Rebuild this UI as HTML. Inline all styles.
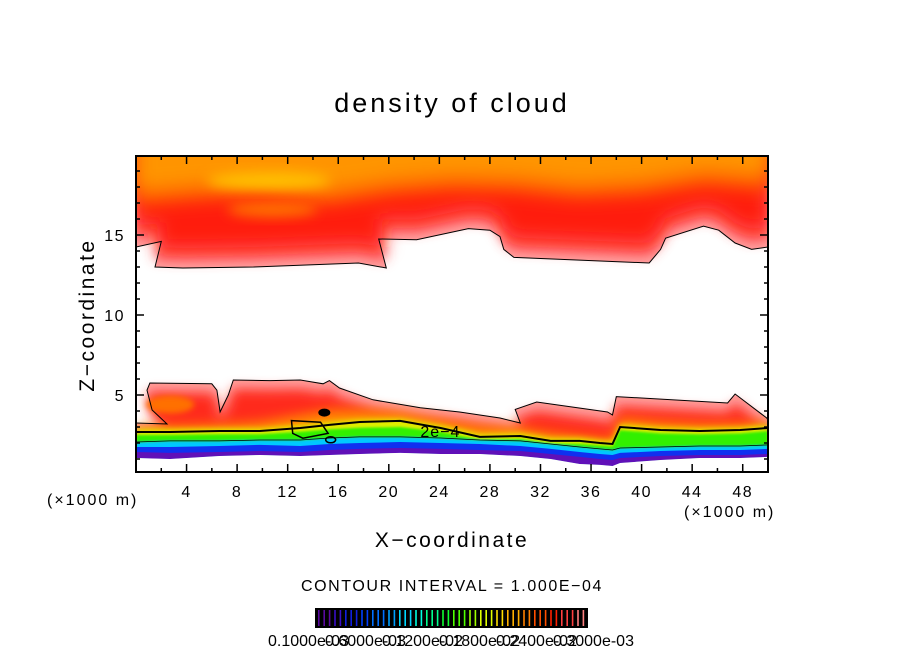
<!DOCTYPE html>
<html><head><meta charset="utf-8">
<style>
html,body{margin:0;padding:0;background:#fff;}
svg{display:block;font-family:"Liberation Sans",sans-serif;}
</style></head>
<body>
<svg id="chart" width="904" height="654" viewBox="0 0 904 654" xmlns="http://www.w3.org/2000/svg">
<defs>
<clipPath id="plotclip"><rect x="136" y="156" width="632" height="316"/></clipPath>
<filter id="blur3" x="-10%" y="-30%" width="120%" height="160%"><feGaussianBlur stdDeviation="3"/></filter>
<filter id="blur5" x="-10%" y="-50%" width="120%" height="200%"><feGaussianBlur stdDeviation="6"/></filter>
<filter id="blur8" x="-10%" y="-50%" width="120%" height="200%"><feGaussianBlur stdDeviation="9"/></filter>
<filter id="blur1" x="-5%" y="-20%" width="110%" height="140%"><feGaussianBlur stdDeviation="1.2"/></filter>
</defs>
<rect x="0" y="0" width="904" height="654" fill="#fff"/>
<text x="452" y="112" text-anchor="middle" font-size="27" letter-spacing="3">density of cloud</text>
<g id="plot" clip-path="url(#plotclip)"></g>
<g id="axes"></g>
<text x="452" y="547" text-anchor="middle" font-size="21" letter-spacing="2.5">X−coordinate</text>
<text transform="translate(94,315) rotate(-90)" text-anchor="middle" font-size="21" letter-spacing="2.5">Z−coordinate</text>
<text x="47" y="505" font-size="16" letter-spacing="2">(×1000 m)</text>
<text x="684" y="517" font-size="16" letter-spacing="2">(×1000 m)</text>
<text x="452" y="591" text-anchor="middle" font-size="16" letter-spacing="1.6">CONTOUR INTERVAL = 1.000E−04</text>
<g id="cbar"></g>
</svg>
<script>
// ---- data (x in km, z in km) ----
const xTicks=[4,8,12,16,20,24,28,32,36,40,44,48];
const zTicks=[5,10,15];
// upper cloud band lower boundary
const upX=[0,2.0,1.5,3.7,9.3,17.6,19.8,19.2,22.2,26.3,28.0,28.8,29.1,29.9,40.6,41.5,41.9,44.9,46.1,47.4,48.7,50];
const upZ=[14.25,14.6,13.0,12.94,13.0,13.25,12.94,14.75,14.7,15.4,15.3,14.9,14.1,13.6,13.25,14.1,14.8,15.55,15.3,14.5,14.1,14.25];
const upInX=[0,5,10,15,20,25,30,35,40,45,50];
const upOrangeZ=[16.9,17.2,17.4,16.9,17.5,17.8,17.7,17.3,17.5,18.1,17.8];
// lower cloud outer boundary
const loX=[0,2.45,1.27,0.87,1.1,6.0,6.4,6.65,7.3,7.7,10.6,13.0,14.8,15.3,16.1,18.75,22.5,25.6,28.8,30.4,30.0,31.7,37.3,37.7,38.0,46.8,47.4,49.9,50];
const loZ=[3.25,3.19,4.06,5.3,5.75,5.7,5.3,3.94,5.0,5.94,5.9,5.94,5.7,5.9,5.44,4.7,4.2,3.94,3.56,3.25,4.1,4.56,3.94,3.75,4.9,4.5,5.06,3.56,3.44];
// inner layers
const layX=[0,2.7,6.6,9.8,13,15.3,17.7,20.9,24.1,27.2,30.4,32.8,35.1,36.7,37.7,38.3,41.5,44.6,47.8,50];
const contourZ=[2.69,2.69,2.75,2.75,2.94,3.13,3.31,3.38,2.94,2.38,2.44,2.13,2.13,2.0,1.94,3.0,2.81,2.75,2.81,2.94];
const orangeZ=[3.0,3.06,3.13,3.31,3.75,4.06,4.06,3.94,3.44,3.06,2.94,2.63,2.44,2.31,2.19,3.56,3.31,3.19,3.19,3.31];
const yellowZ=[2.85,2.85,2.9,2.9,3.1,3.3,3.45,3.5,3.1,2.55,2.6,2.3,2.3,2.15,2.1,3.15,2.95,2.9,2.95,3.1];
const greenZ=[2.5,2.5,2.55,2.55,2.7,2.85,2.95,3.0,2.7,2.2,2.25,1.95,1.95,1.85,1.8,2.8,2.6,2.55,2.6,2.75];
const cyanZ=[2.06,2.13,2.13,2.19,2.19,2.31,2.38,2.38,2.31,2.19,2.13,1.94,1.75,1.63,1.56,1.69,1.75,1.81,1.81,1.88];
const blueZ=[1.75,1.75,1.81,1.88,1.81,1.94,2.0,2.06,2.0,1.94,1.81,1.63,1.44,1.31,1.25,1.38,1.5,1.56,1.56,1.63];
const purpleZ=[1.44,1.38,1.44,1.5,1.44,1.56,1.63,1.69,1.63,1.56,1.5,1.31,1.13,1.0,0.94,1.06,1.19,1.25,1.25,1.31];
const bottomZ=[1.06,1.0,1.19,1.25,1.19,1.25,1.31,1.38,1.31,1.31,1.19,1.0,0.69,0.63,0.56,0.75,0.94,1.06,1.06,1.13];
const cbarLabels=["0.1000e-03","0.6000e-03","0.1200e-02","0.1800e-02","0.2400e-02","0.3000e-03"];
const cbarColors=["#5a0aa0","#3a10c8","#1020e0","#0040ff","#0070ff","#00a0ff","#00d8ff","#00ffe0","#00ff90","#10ff30","#50ff00","#a0ff00","#e0ff00","#ffe000","#ffb000","#ff8000","#ff5000","#ff2000","#ff4040","#ff8080"];

// ---- axis functions ----
const X=v=>136+v*12.64;
const Z=v=>475-v*16;
const NS="http://www.w3.org/2000/svg";
const plot=document.getElementById('plot');
const axes=document.getElementById('axes');
function mk(tag,attrs,parent){const e=document.createElementNS(NS,tag);for(const k in attrs)e.setAttribute(k,attrs[k]);parent.appendChild(e);return e;}
function pts(xs,zs){return xs.map((x,i)=>X(x).toFixed(1)+','+Z(zs[i]).toFixed(1));}
function layer(topZ,botZ,color,filt,name){
  const p=pts(layX,topZ).concat(pts(layX,botZ).reverse());
  const el=mk('polygon',{points:p.join(' '),fill:color},plot);
  if(filt)el.setAttribute('filter',filt);
  
  
  return el;
}
// upper band
const topLine=[X(50)+','+Z(21),X(0)+','+Z(21)];
let e=mk('polygon',{points:pts(upX,upZ).concat(topLine).join(' '),fill:'#ffa0a0'},plot);


e=mk('polygon',{points:pts(upX,upZ).concat(topLine).join(' '),fill:'#ff5050',transform:'translate(0,-8)',filter:'url(#blur5)'},plot);


e=mk('polygon',{points:pts(upX,upZ).concat(topLine).join(' '),fill:'#ff1a10',transform:'translate(0,-20)',filter:'url(#blur8)'},plot);


e=mk('polygon',{points:pts(upInX,upOrangeZ).concat(topLine).join(' '),fill:'#ff6000',filter:'url(#blur8)'},plot);


e=mk('polygon',{points:pts(upInX,upOrangeZ).concat(topLine).join(' '),fill:'#ff9400',transform:'translate(0,-14)',filter:'url(#blur8)'},plot);


e=mk('ellipse',{cx:X(10.5),cy:Z(18.4),rx:62,ry:9,fill:'#ffc000',filter:'url(#blur5)'},plot);


e=mk('ellipse',{cx:X(10.8),cy:Z(16.6),rx:45,ry:8,fill:'#ff7000',filter:'url(#blur5)'},plot);


e=mk('polyline',{points:pts(upX,upZ).join(' '),fill:'none',stroke:'#000','stroke-width':1},plot);



// lower band
const loBot=pts(layX,bottomZ).reverse();
e=mk('polygon',{points:pts(loX,loZ).concat(loBot).join(' '),fill:'#ffa0a0'},plot);


e=mk('polygon',{points:pts(loX,loZ).concat(loBot).join(' '),fill:'#ff2a1a',transform:'translate(0,9)',filter:'url(#blur5)'},plot);


e=mk('ellipse',{cx:X(2.7),cy:Z(4.4),rx:24,ry:9,fill:'#ff7000',filter:'url(#blur3)'},plot);


layer(orangeZ,bottomZ,'#ff8a00','url(#blur5)','lower-orange');
layer(yellowZ,bottomZ,'#e0f000','url(#blur3)','lower-yellow');
layer(greenZ,bottomZ,'#30f000','url(#blur1)','lower-green');
layer(cyanZ,bottomZ,'#00c8ff','url(#blur1)','lower-cyan');
layer(blueZ,bottomZ,'#1030f0',null,'lower-blue');
layer(purpleZ,bottomZ,'#6010b8',null,'lower-purple');
e=mk('polygon',{points:pts(layX,bottomZ).concat([X(50)+','+Z(-1),X(0)+','+Z(-1)]).join(' '),fill:'#fff'},plot);


e=mk('polyline',{points:pts(loX,loZ).join(' '),fill:'none',stroke:'#000','stroke-width':1},plot);


e=mk('polyline',{points:pts(layX,contourZ).join(' '),fill:'none',stroke:'#000','stroke-width':2},plot);


e=mk('polyline',{points:pts(layX,cyanZ).join(' '),fill:'none',stroke:'#000','stroke-width':0.8},plot);


// messy contour fragments
e=mk('polygon',{points:[X(12.3)+','+Z(3.4),X(14.6)+','+Z(3.3),X(15.2)+','+Z(2.6),X(13.2)+','+Z(2.3),X(12.4)+','+Z(2.6)].join(' '),fill:'none',stroke:'#000','stroke-width':1.5},plot);


e=mk('ellipse',{cx:X(14.9),cy:Z(3.9),rx:6,ry:4,fill:'#000'},plot);


e=mk('ellipse',{cx:X(15.4),cy:Z(2.2),rx:5,ry:3,fill:'none',stroke:'#000','stroke-width':1.5},plot);


e=mk('text',{x:X(22.5),y:Z(2.7)+5,'font-size':16,'letter-spacing':1},plot);
e.textContent='2e−4';



// axes frame and ticks
e=mk('rect',{x:136,y:156,width:632,height:316,fill:'none',stroke:'#000','stroke-width':2},axes);


for(let v=2;v<50;v+=2){
  const len=(v%4===0)?8:4;
  mk('line',{x1:X(v),x2:X(v),y1:472,y2:472-len,stroke:'#000','stroke-width':1.5},axes);
  mk('line',{x1:X(v),x2:X(v),y1:156,y2:156+len,stroke:'#000','stroke-width':1.5},axes);
}
for(let v=1;v<20;v++){
  const len=(v%5===0)?8:4;
  mk('line',{x1:136,x2:136+len,y1:Z(v),y2:Z(v),stroke:'#000','stroke-width':1.5},axes);
  mk('line',{x1:768,x2:768-len,y1:Z(v),y2:Z(v),stroke:'#000','stroke-width':1.5},axes);
}
xTicks.forEach(v=>{
  const t=mk('text',{x:X(v),y:497,'text-anchor':'middle','font-size':16,'letter-spacing':1.5},axes);
  t.textContent=v;
  
  
});
zTicks.forEach(v=>{
  const t=mk('text',{x:125,y:Z(v)+6,'text-anchor':'end','font-size':16,'letter-spacing':1.5},axes);
  t.textContent=v;
  
  
});

// colorbar
const cb=document.getElementById('cbar');
e=mk('rect',{x:315,y:608,width:273,height:20,fill:'#000'},cb);


const nStripes=50;
for(let i=0;i<nStripes;i++){
  const c=cbarColors[Math.floor(i*cbarColors.length/nStripes)];
  const s=mk('rect',{x:318+i*5.4,y:610,width:1.6,height:16,fill:c},cb);
  
  
}
cbarLabels.forEach((l,i)=>{
  const t=mk('text',{x:268+i*57,y:646,'font-size':16},cb);
  t.textContent=l;
  
  
});
</script>
</body></html>
